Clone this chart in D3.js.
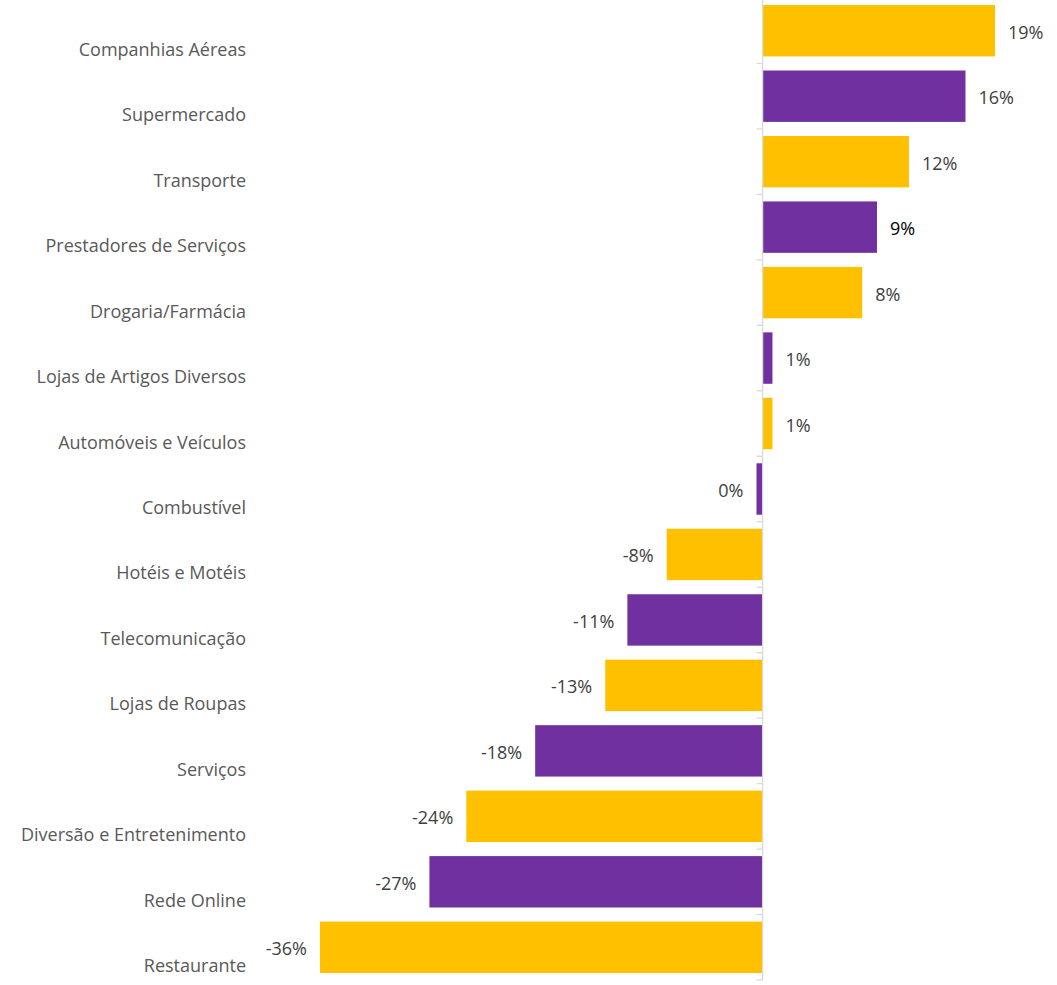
<!DOCTYPE html>
<html>
<head>
<meta charset="utf-8">
<script src="https://cdn.jsdelivr.net/npm/d3@7"></script>
<style>
  html, body { margin: 0; padding: 0; background: #fff; }
  svg { display: block; }
</style>
</head>
<body>
<svg id="chart" width="1057" height="985"></svg>
<script>
const categories = [
  "Companhias Aéreas", "Supermercado", "Transporte", "Prestadores de Serviços",
  "Drogaria/Farmácia", "Lojas de Artigos Diversos", "Automóveis e Veículos",
  "Combustível", "Hotéis e Motéis", "Telecomunicação", "Lojas de Roupas",
  "Serviços", "Diversão e Entretenimento", "Rede Online", "Restaurante"
];
const values = [18.9, 16.5, 11.9, 9.3, 8.1, 0.8, 0.8, -0.5, -7.8, -11.0, -12.8, -18.5, -24.1, -27.1, -36.0];
const valueLabels = ["19%", "16%", "12%", "9%", "8%", "1%", "1%", "0%", "-8%", "-11%", "-13%", "-18%", "-24%", "-27%", "-36%"];
const seriesColors = ["#FFC000", "#7030A0"];

const svg = d3.select("#chart");
const font = "'Open Sans', sans-serif";

const data = categories.map((c, i) => ({ c, v: values[i], label: valueLabels[i], i }));

const x = d3.scaleLinear()
  .domain(d3.extent(values))
  .range([320, 995]);

const y = d3.scaleBand()
  .domain(categories)
  .range([-2, 980])
  .paddingInner(0.215)
  .paddingOuter(0.1075);

const x0 = x(0);

// bars
svg.append("g").selectAll("rect")
  .data(data)
  .join("rect")
  .attr("x", d => Math.min(x(d.v), x0))
  .attr("y", d => y(d.c))
  .attr("width", d => Math.abs(x(d.v) - x0))
  .attr("height", y.bandwidth())
  .attr("fill", d => seriesColors[d.i % 2]);

// axis line with ticks on band boundaries
const axisG = svg.append("g");
axisG.append("line")
  .attr("x1", x0).attr("x2", x0)
  .attr("y1", 0).attr("y2", 980.5)
  .attr("stroke", "#d9d9d9").attr("stroke-width", 1.3);
const step = y.step();
const boundaries = d3.range(categories.length + 1).map(k => -2 + k * step);
axisG.selectAll("line.tick")
  .data(boundaries)
  .join("line")
  .attr("class", "tick")
  .attr("x1", x0 - 6).attr("x2", x0)
  .attr("y1", d => d).attr("y2", d => d)
  .attr("stroke", "#d9d9d9").attr("stroke-width", 1.3);

// category labels
svg.append("g").selectAll("text")
  .data(data)
  .join("text")
  .attr("x", 246)
  .attr("y", d => y(d.c) + y.bandwidth() / 2 + 25)
  .attr("text-anchor", "end")
  .attr("font-family", font)
  .attr("font-size", 18)
  .attr("fill", "#595959")
  .text(d => d.c);

// value labels
svg.append("g").selectAll("text")
  .data(data)
  .join("text")
  .attr("x", d => d.v >= 0 ? x(d.v) + 13 : Math.min(x(d.v), x0) - 13)
  .attr("y", d => y(d.c) + y.bandwidth() / 2 + 8)
  .attr("text-anchor", d => d.v >= 0 ? "start" : "end")
  .attr("font-family", font)
  .attr("font-size", 18)
  .attr("fill", d => d.label === "9%" ? "#000000" : "#404040")
  .text(d => d.label);
</script>
</body>
</html>
